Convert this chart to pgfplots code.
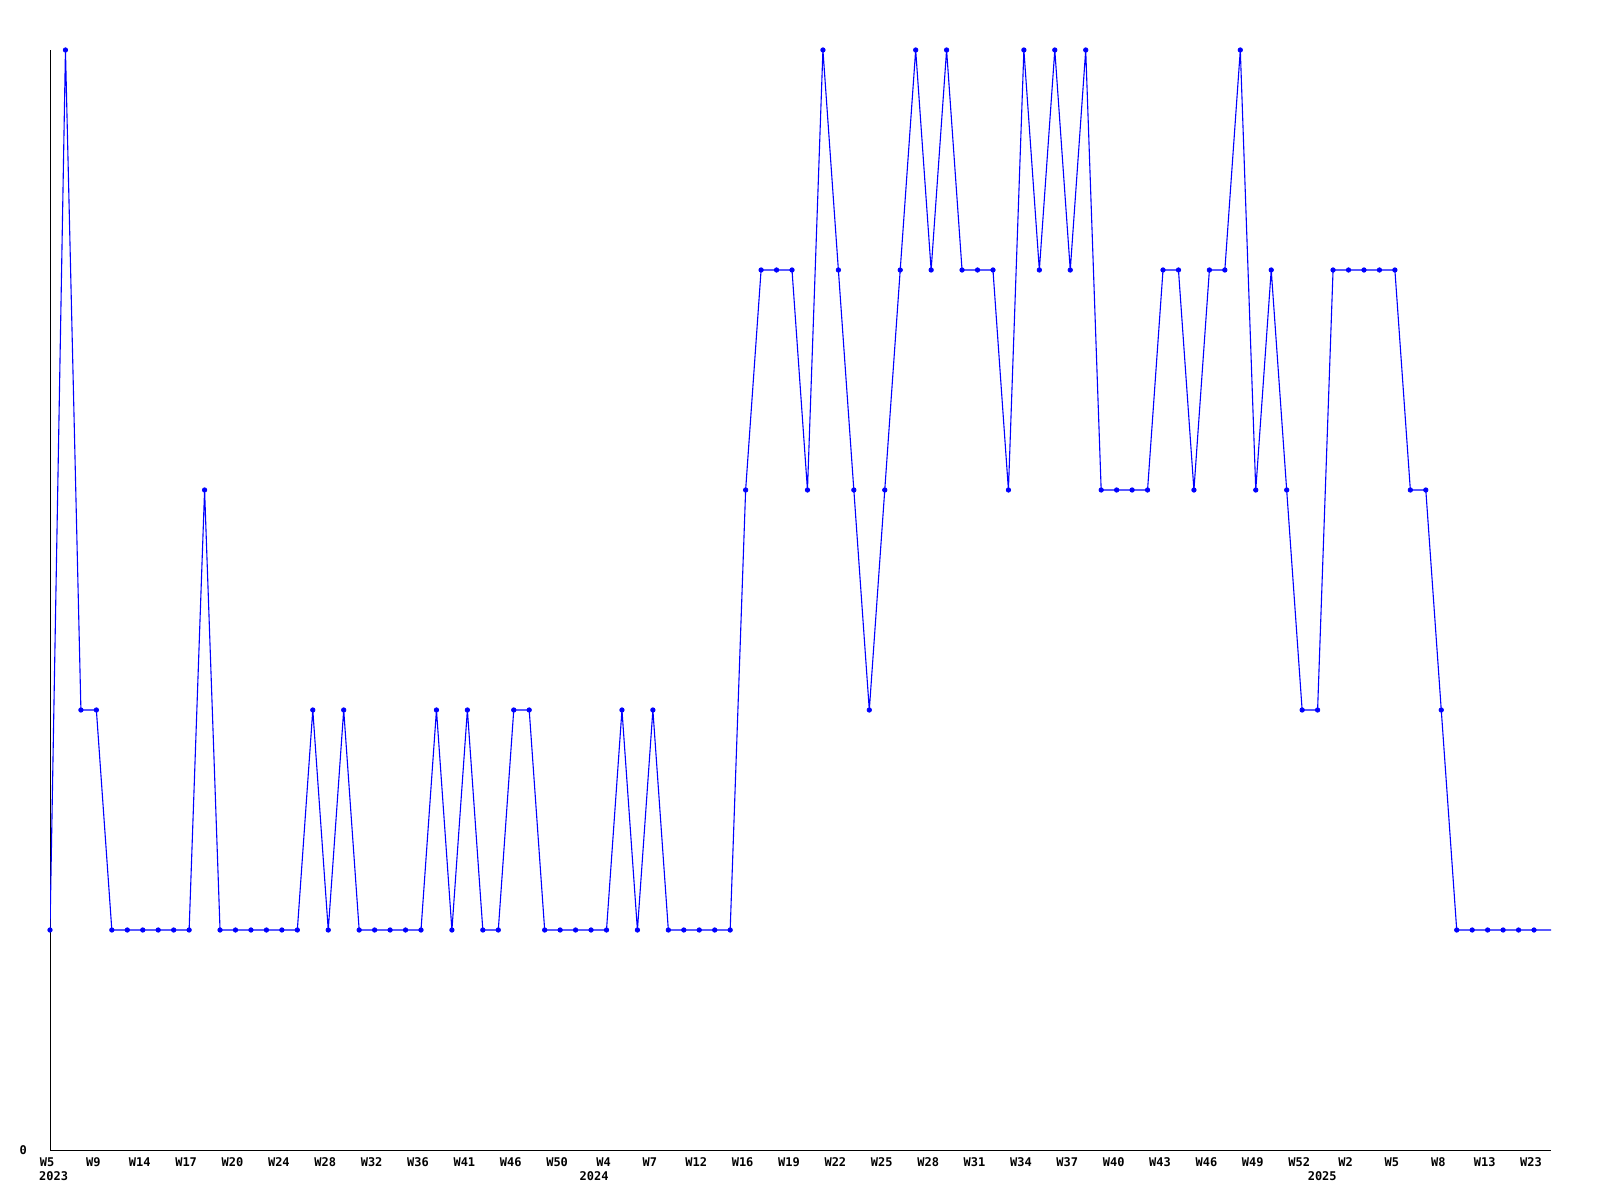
\documentclass[border=0pt]{standalone}
\usepackage{pgfplots}
\usepackage{pgfplotstable}
\usepackage{fontspec}
\pgfplotsset{compat=1.18}
\newfontfamily\monofont{DejaVu Sans Mono}[BoldFont={DejaVu Sans Mono Bold}]
\pgfplotstableread{
x y
0 1
1 5
2 2
3 2
4 1
5 1
6 1
7 1
8 1
9 1
10 3
11 1
12 1
13 1
14 1
15 1
16 1
17 2
18 1
19 2
20 1
21 1
22 1
23 1
24 1
25 2
26 1
27 2
28 1
29 1
30 2
31 2
32 1
33 1
34 1
35 1
36 1
37 2
38 1
39 2
40 1
41 1
42 1
43 1
44 1
45 3
46 4
47 4
48 4
49 3
50 5
51 4
52 3
53 2
54 3
55 4
56 5
57 4
58 5
59 4
60 4
61 4
62 3
63 5
64 4
65 5
66 4
67 5
68 3
69 3
70 3
71 3
72 4
73 4
74 3
75 4
76 4
77 5
78 3
79 4
80 3
81 2
82 2
83 4
84 4
85 4
86 4
87 4
88 3
89 3
90 2
91 1
92 1
93 1
94 1
95 1
96 1
98 1
}\datatable
\begin{document}
\begin{tikzpicture}
\begin{axis}[
  at={(0,0)}, anchor=origin,
  scale only axis,
  width=750.5pt, height=550pt,
  xmin=0, xmax=97.1, ymin=0, ymax=5,
  axis x line*=bottom, axis y line*=left,
  axis line style={black, line width=0.5pt, -},
  major tick length=0pt,
  xtick={0,3,...,96},
  xticklabels={W5,W9,W14,W17,W20,W24,W28,W32,W36,W41,W46,W50,W4,W7,W12,W16,W19,W22,W25,W28,W31,W34,W37,W40,W43,W46,W49,W52,W2,W5,W8,W13,W23},
  ytick={0}, yticklabels={0},
  ticklabel style={font=\monofont\bfseries\fontsize{6}{7}\selectfont},
  xticklabel style={xshift=-1.5pt, yshift=-0.5pt},
  yticklabel style={xshift=-8pt},
  clip mode=individual,
]
\addplot[color={rgb,255:red,0;green,0;blue,255}, line width=0.55pt, no marks] table[x=x,y=y] {\datatable};
\addplot[color={rgb,255:red,0;green,0;blue,255}, only marks, mark=*, mark size=1.1pt, restrict x to domain=0:96] table[x=x,y=y] {\datatable};
\end{axis}
\begin{axis}[
  at={(0,0)}, anchor=origin,
  scale only axis,
  width=750.5pt, height=550pt,
  xmin=0, xmax=97.1, ymin=0, ymax=5,
  hide axis, clip=false,
]
\node[font=\monofont\bfseries\fontsize{6}{7}\selectfont, anchor=center, yshift=-13.25pt] at (axis cs:0.23,0) {2023};
\node[font=\monofont\bfseries\fontsize{6}{7}\selectfont, anchor=center, yshift=-13.25pt] at (axis cs:35.2,0) {2024};
\node[font=\monofont\bfseries\fontsize{6}{7}\selectfont, anchor=center, yshift=-13.25pt] at (axis cs:82.3,0) {2025};
\end{axis}
\useasboundingbox (-25pt,-25pt) rectangle (775pt,575pt);
\end{tikzpicture}
\end{document}
